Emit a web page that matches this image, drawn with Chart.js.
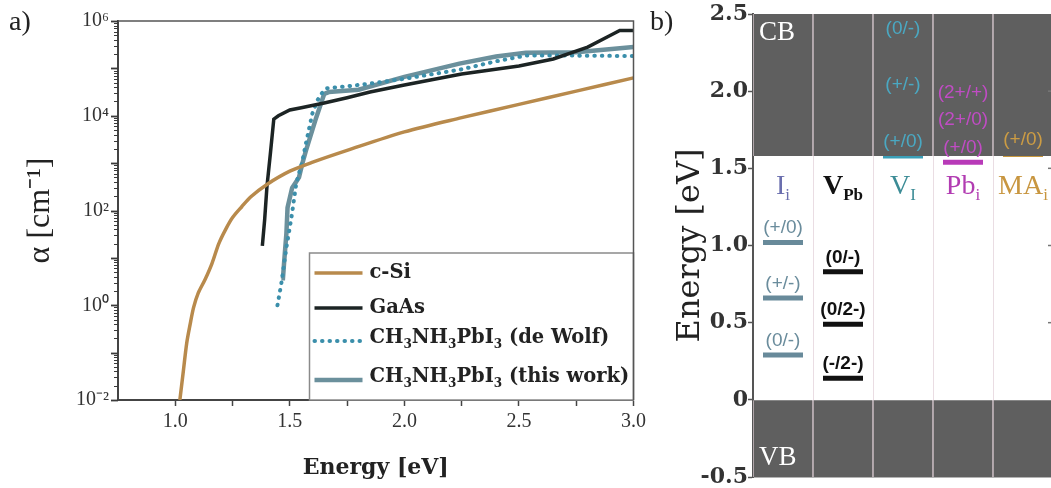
<!DOCTYPE html>
<html>
<head>
<meta charset="utf-8">
<script src="https://cdn.jsdelivr.net/npm/chart.js@4.4.1/dist/chart.umd.min.js"></script>
<style>
html, body { margin: 0; padding: 0; background: #fff; overflow: hidden; width: 1051px; height: 488px; }
#wa { position: absolute; left: 0; top: 0; width: 650px; height: 488px; }
#wb { position: absolute; left: 640px; top: 0; width: 420px; height: 488px; }
.tag { position: absolute; font-family: "Liberation Serif", serif; font-size: 28px; line-height: 1; color: #222; }
</style>
</head>
<body>
<div id="wa"><canvas id="chartA" width="650" height="488"></canvas></div>
<div id="wb"><canvas id="chartB" width="420" height="488"></canvas></div>
<div class="tag" style="left:9px;top:7px">a)</div>
<div class="tag" style="left:650px;top:7px">b)</div>
<script>
// ---- panel a: absorption coefficient ----
const siEnergy = [1.02, 1.035, 1.05, 1.065, 1.08, 1.10, 1.13, 1.16, 1.19, 1.22, 1.25, 1.29, 1.33, 1.40, 1.50, 1.60, 1.75, 2.00, 2.25, 2.50, 2.75, 3.00];
const siAlpha = [0.01, 0.04, 0.16, 0.4, 0.9, 1.8, 3.5, 7.6, 20, 40, 71, 120, 195, 355, 676, 1050, 1860, 4570, 9120, 17400, 33100, 63000];

const gaasEnergy = [1.38, 1.39, 1.40, 1.415, 1.43, 1.45, 1.50, 1.55, 1.65, 1.75, 1.85, 2.00, 2.25, 2.50, 2.65, 2.80, 2.90, 2.94, 3.00];
const gaasAlpha = [18, 63, 316, 1580, 8500, 10000, 13200, 14800, 18600, 24000, 31600, 44700, 75900, 112000, 158000, 282000, 500000, 630000, 630000];

const wolfEnergy = [1.446, 1.463, 1.485, 1.507, 1.528, 1.555, 1.57, 1.598, 1.62, 1.637, 1.66, 1.75, 1.85, 2.00, 2.25, 2.40, 2.53, 2.75, 3.00];
const wolfAlpha = [1, 2.9, 16.6, 71, 372, 1120, 2570, 11000, 20900, 28800, 38000, 41700, 47900, 60300, 95500, 141000, 186000, 186000, 182000];

const workEnergy = [1.463, 1.47, 1.475, 1.485, 1.49, 1.51, 1.54, 1.555, 1.57, 1.615, 1.65, 1.67, 1.80, 2.00, 2.24, 2.40, 2.53, 2.75, 3.00];
const workAlpha = [3.7, 3.7, 8, 33, 115, 300, 500, 1000, 1820, 9100, 28800, 31600, 35500, 66000, 126000, 178000, 214000, 219000, 282000];

const seriesNames = ['c-Si', 'GaAs', 'CH3NH3PbI3 (de Wolf)', 'CH3NH3PbI3 (this work)'];
const energyTicks = [1.0, 1.25, 1.5, 1.75, 2.0, 2.25, 2.5, 2.75, 3.0];
const alphaExponents = [-2, -1, 0, 1, 2, 3, 4, 5, 6];

// ---- panel b: defect levels ----
const columns = ['I_i', 'V_Pb', 'V_I', 'Pb_i', 'MA_i'];
const cbRange = [1.58, 2.5];
const vbRange = [-0.5, 0];
const iiLevels = [1.02, 0.66, 0.29];
const iiLabels = ['(+/0)', '(+/-)', '(0/-)'];
const vpbLevels = [0.83, 0.49, 0.14];
const vpbLabels = ['(0/-)', '(0/2-)', '(-/2-)'];
const viLevels = [2.31, 1.95, 1.58];
const viLabels = ['(0/-)', '(+/-)', '(+/0)'];
const pbiLevels = [1.90, 1.72, 1.54];
const pbiLabels = ['(2+/+)', '(2+/0)', '(+/0)'];
const maiLevels = [1.59];
const maiLabels = ['(+/0)'];
const energyStepsB = [-0.5, 0, 0.5, 1.0, 1.5, 2.0, 2.5];

const pts = (xs, ys) => xs.map((x, i) => ({ x: x, y: ys[i] }));

// draw text where every "3" is a subscript
function drawSub(ctx, text, x, y, size) {
  const big = 'bold ' + size + 'px "DejaVu Serif"';
  const small = 'bold ' + Math.round(size * 0.62) + 'px "DejaVu Serif"';
  let cx = x;
  text.split(/(3)/).forEach(p => {
    if (!p) return;
    if (p === '3') {
      ctx.font = small;
      ctx.fillText(p, cx, y + 7);
    } else {
      ctx.font = big;
      ctx.fillText(p, cx, y);
    }
    cx += ctx.measureText(p).width;
  });
}

// log ticks on the left axis, drawn before the datasets
const logTicks = {
  id: 'logTicks',
  beforeDatasetsDraw(chart) {
    const { ctx, chartArea: a } = chart;
    const top = a.top, bottom = a.bottom;
    ctx.save();
    ctx.strokeStyle = '#3a3a3a';
    alphaExponents.forEach(e => {
      for (let m = 1; m < 10; m++) {
        const lg = e + Math.log10(m);
        if (lg > 6.0001) break;
        const py = Math.round(bottom - (lg + 2) / 8 * (bottom - top)) + 0.5;
        ctx.lineWidth = m === 1 ? 1.8 : 1;
        ctx.beginPath();
        ctx.moveTo(a.left - (m === 1 ? 7 : 4), py);
        ctx.lineTo(a.left, py);
        ctx.stroke();
      }
    });
    ctx.restore();
  }
};

// frame on top/right
const frameA = {
  id: 'frameA',
  afterDraw(chart) {
    const { ctx, chartArea: a } = chart;
    ctx.save();
    ctx.strokeStyle = '#555';
    ctx.lineWidth = 1.5;
    ctx.beginPath();
    ctx.moveTo(a.left, a.top);
    ctx.lineTo(a.right, a.top);
    ctx.lineTo(a.right, a.bottom);
    ctx.stroke();
    ctx.restore();
  }
};

const legendBox = {
  id: 'legendBox',
  afterDatasetsDraw(chart) {
    const { ctx, chartArea: a } = chart;
    const w = 324, h = 147;
    const left = a.right - w, top = a.bottom - h;
    ctx.save();
    ctx.fillStyle = '#fff';
    ctx.fillRect(left, top, w, h);
    ctx.strokeStyle = '#8a8a8a';
    ctx.lineWidth = 1.5;
    ctx.strokeRect(left, top, w, h);
    const rows = [20, 55, 88, 127];
    chart.data.datasets.forEach((ds, i) => {
      const y = top + rows[i];
      ctx.beginPath();
      ctx.strokeStyle = ds.borderColor;
      ctx.lineWidth = ds.borderWidth;
      ctx.lineCap = ds.borderCapStyle || 'butt';
      ctx.setLineDash(ds.borderDash || []);
      ctx.moveTo(left + 5, y);
      ctx.lineTo(left + 53, y);
      ctx.stroke();
      ctx.setLineDash([]);
      ctx.fillStyle = '#222';
      ctx.textBaseline = 'middle';
      ctx.textAlign = 'left';
      drawSub(ctx, ds.label, left + 60, ds.label.indexOf('3') >= 0 ? y - 3 : y, 19.5);
    });
    ctx.restore();
  }
};

const supMap = { '-': '\u207B', '0': '\u2070', '1': '\u00B9', '2': '\u00B2', '4': '\u2074', '6': '\u2076' };

new Chart(document.getElementById('chartA'), {
  type: 'scatter',
  data: {
    datasets: [
      { label: seriesNames[0], data: pts(siEnergy, siAlpha), borderColor: '#b88a4c', borderWidth: 3.5, tension: 0.3 },
      { label: seriesNames[1], data: pts(gaasEnergy, gaasAlpha), borderColor: '#1c2424', borderWidth: 3.5 },
      { label: seriesNames[2], data: pts(wolfEnergy, wolfAlpha), borderColor: '#3b8fab', borderWidth: 4, borderDash: [0.5, 7], borderCapStyle: 'round' },
      { label: seriesNames[3], data: pts(workEnergy, workAlpha), borderColor: '#6b909c', borderWidth: 4.5 }
    ]
  },
  options: {
    responsive: false,
    animation: false,
    showLine: true,
    elements: { point: { radius: 0 }, line: { tension: 0 } },
    layout: { autoPadding: false, padding: { left: 21, right: 13, top: 20, bottom: 0 } },
    plugins: { legend: { display: false }, tooltip: { enabled: false } },
    scales: {
      x: {
        type: 'linear',
        min: 0.75,
        max: 3.0,
        afterBuildTicks: s => { s.ticks = energyTicks.map(v => ({ value: v })); },
        afterFit: s => { s.height = 88; },
        ticks: {
          autoSkip: false,
          maxRotation: 0,
          padding: 4,
          color: '#333',
          font: { family: 'Liberation Serif', size: 20 },
          callback: v => (Math.abs(v * 2 - Math.round(v * 2)) < 1e-9 ? v.toFixed(1) : '')
        },
        grid: { drawOnChartArea: false, tickLength: 6, tickColor: '#444', tickWidth: 1.5 },
        border: { color: '#444', width: 2 },
        title: {
          display: true,
          text: 'Energy [eV]',
          color: '#222',
          font: { family: 'DejaVu Serif', size: 22, weight: 'bold' },
          padding: { top: 4, bottom: 7 }
        }
      },
      y: {
        type: 'logarithmic',
        min: 0.01,
        max: 1e6,
        afterBuildTicks: s => {
          s.ticks = alphaExponents.filter(e => e % 2 === 0).map(e => ({ value: Math.pow(10, e) }));
        },
        afterFit: s => { s.width = 97; },
        ticks: {
          autoSkip: false,
          padding: 9,
          color: '#333',
          font: { family: 'Liberation Serif', size: 20 },
          callback: v => {
            const r = Math.round(Math.log10(v));
            return '10' + String(r).split('').map(c => supMap[c]).join('');
          }
        },
        grid: { drawOnChartArea: false, drawTicks: false },
        border: { color: '#444', width: 2 },
        title: {
          display: true,
          text: '\u03B1 [cm\u207B\u00B9]',
          color: '#222',
          font: { family: 'Liberation Serif', size: 32 },
          padding: { top: 0, bottom: 2 }
        }
      }
    }
  },
  plugins: [logTicks, legendBox, frameA]
});

// ---- panel b ----
const levelSets = [
  { col: 'I_i', levels: iiLevels, labels: iiLabels, color: '#688a9a', text: '#6a8c9c', bold: false },
  { col: 'V_Pb', levels: vpbLevels, labels: vpbLabels, color: '#111111', text: '#111111', bold: true },
  { col: 'V_I', levels: viLevels, labels: viLabels, color: '#3a9fb8', text: '#4aa8c2', bold: false },
  { col: 'Pb_i', levels: pbiLevels, labels: pbiLabels, color: '#b83ab8', text: '#c04cc4', bold: false },
  { col: 'MA_i', levels: maiLevels, labels: maiLabels, color: '#c8983e', text: '#cc9c44', bold: false }
];

const headers = [
  { main: 'I', sub: 'i', color: '#6a6eae', bold: false },
  { main: 'V', sub: 'Pb', color: '#111', bold: true },
  { main: 'V', sub: 'I', color: '#3c8c96', bold: false },
  { main: 'Pb', sub: 'i', color: '#b23cb2', bold: false },
  { main: 'MA', sub: 'i', color: '#c89640', bold: false }
];

const levelText = {
  id: 'levelText',
  afterDatasetsDraw(chart) {
    const { ctx, chartArea: a, scales: { x, y } } = chart;
    ctx.save();
    ctx.fillStyle = '#fff';
    ctx.font = '27px "Liberation Serif"';
    ctx.textBaseline = 'middle';
    ctx.textAlign = 'left';
    ctx.fillText('CB', a.left + 6, y.getPixelForValue(2.38));
    ctx.fillText('VB', a.left + 6, y.getPixelForValue(-0.375));

    // small inward ticks on the right frame
    ctx.strokeStyle = '#777';
    ctx.lineWidth = 1.5;
    [0.5, 1.0, 1.5, 2.0].forEach(v => {
      const py = y.getPixelForValue(v);
      ctx.beginPath();
      ctx.moveTo(a.right - 5, py);
      ctx.lineTo(a.right, py);
      ctx.stroke();
    });

    ctx.textAlign = 'center';
    ctx.textBaseline = 'alphabetic';
    levelSets.forEach((set, k) => {
      const meta = chart.getDatasetMeta(k + 2);
      ctx.fillStyle = set.text;
      ctx.font = (set.bold ? 'bold ' : '') + '19px "Liberation Sans"';
      meta.data.forEach((pt, j) => {
        ctx.fillText(set.labels[j], pt.x, pt.y - 9);
      });
    });

    const hy = y.getPixelForValue(1.38);
    headers.forEach((h, i) => {
      const cx = x.getPixelForValue(i);
      const f1 = (h.bold ? 'bold ' : '') + '28px "Liberation Serif"';
      const f2 = (h.bold ? 'bold ' : '') + '17px "Liberation Serif"';
      ctx.font = f1;
      const w1 = ctx.measureText(h.main).width;
      ctx.font = f2;
      const w2 = ctx.measureText(h.sub).width;
      const start = cx - (w1 + w2) / 2;
      ctx.fillStyle = h.color;
      ctx.textAlign = 'left';
      ctx.textBaseline = 'middle';
      ctx.font = f1;
      ctx.fillText(h.main, start, hy);
      ctx.font = f2;
      ctx.fillText(h.sub, start + w1, hy + 9);
    });
    ctx.restore();
  }
};

const bandStyle = {
  type: 'bar',
  backgroundColor: '#5f5f5f',
  borderColor: '#d9c9d0',
  borderWidth: { left: 1, right: 1, top: 0, bottom: 0 },
  borderSkipped: false,
  barPercentage: 1,
  categoryPercentage: 1,
  grouped: false
};

new Chart(document.getElementById('chartB'), {
  type: 'bar',
  data: {
    labels: columns,
    datasets: [
      Object.assign({ label: 'CB', data: columns.map(() => cbRange) }, bandStyle),
      Object.assign({ label: 'VB', data: columns.map(() => vbRange) }, bandStyle)
    ].concat(levelSets.map(set => ({
      type: 'line',
      label: set.col,
      data: set.levels.map(v => ({ x: set.col, y: v })),
      showLine: false,
      pointStyle: 'line',
      pointRadius: 20,
      pointHoverRadius: 20,
      pointBorderWidth: 5,
      borderColor: set.color,
      backgroundColor: set.color
    })))
  },
  options: {
    responsive: false,
    animation: false,
    layout: { autoPadding: false, padding: { left: 31, right: 7, top: 14, bottom: 0 } },
    plugins: { legend: { display: false }, tooltip: { enabled: false } },
    scales: {
      x: {
        type: 'category',
        offset: true,
        afterFit: s => { s.height = 11; },
        ticks: { display: false },
        grid: { offset: true, drawTicks: false, color: '#eadde3', lineWidth: 1 },
        border: { color: '#666', width: 1.5 }
      },
      y: {
        min: -0.5,
        max: 2.5,
        afterBuildTicks: s => { s.ticks = energyStepsB.map(v => ({ value: v })); },
        afterFit: s => { s.width = 82; },
        ticks: {
          padding: 0,
          color: '#333',
          font: { family: 'DejaVu Serif', size: 22, weight: 'bold', lineHeight: 0.5 },
          callback: v => (v === 0 ? '0' : v.toFixed(1))
        },
        grid: { drawOnChartArea: false, tickLength: 5, tickColor: '#555', tickWidth: 1.5 },
        border: { color: '#555', width: 2 },
        title: {
          display: true,
          text: 'Energy [eV]',
          color: '#222',
          font: { family: 'DejaVu Serif', size: 32 },
          padding: { top: 0, bottom: 0 }
        }
      }
    }
  },
  plugins: [levelText]
});
</script>
</body>
</html>
